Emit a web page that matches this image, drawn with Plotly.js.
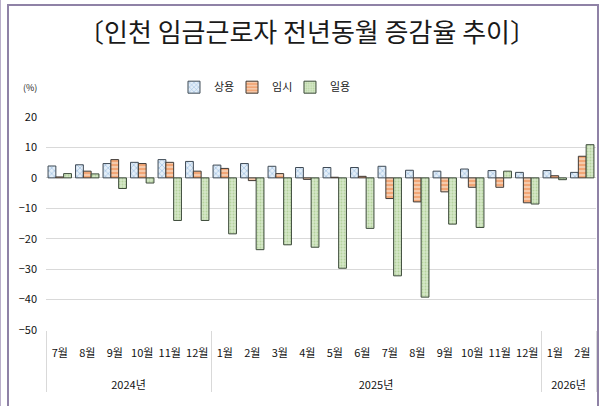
<!DOCTYPE html>
<html>
<head>
<meta charset="utf-8">
<script src="https://cdn.plot.ly/plotly-3.0.1.min.js"></script>
<style>
  html, body { margin: 0; padding: 0; background: #ffffff; }
  #wrap { position: relative; width: 602px; height: 406px; overflow: hidden; }
  #chart { width: 602px; height: 406px; }
  #frame { position: absolute; left: 7px; top: 4px; width: 588px; height: 420px;
           border: 2px solid #8f82a6; pointer-events: none; }
  #edge { position: absolute; left: 0px; top: 0px; width: 1px; height: 406px;
          background: #b9aec9; pointer-events: none; }
</style>
</head>
<body>
<div id="wrap">
  <div id="chart"></div>
  <div id="frame"></div>
  <div id="edge"></div>
</div>
<script>
// zero-width space keeps the 2024 months distinct so that each year keeps its own month order
const ZW = '\u200b';
// leading line breaks drop the year row below the month row
const YB = '<br><br>';
const years = [YB+"2024년",YB+"2024년",YB+"2024년",YB+"2024년",YB+"2024년",YB+"2024년",
  YB+"2025년",YB+"2025년",YB+"2025년",YB+"2025년",YB+"2025년",YB+"2025년",YB+"2025년",YB+"2025년",YB+"2025년",YB+"2025년",YB+"2025년",YB+"2025년",
  YB+"2026년",YB+"2026년"];
const months = ["7월"+ZW,"8월"+ZW,"9월"+ZW,"10월"+ZW,"11월"+ZW,"12월"+ZW,
  "1월","2월","3월","4월","5월","6월","7월","8월","9월","10월","11월","12월",
  "1월","2월"];
const regular   = [3.9, 4.3, 4.7, 5.1, 6.0, 5.4, 4.2, 4.7, 3.8, 3.4, 3.4, 3.4, 3.8, 2.5, 2.2, 2.9, 2.4, 1.8, 2.4, 1.8];
const temporary = [0.3, 2.2, 6.0, 4.7, 5.1, 2.2, 3.1, -0.9, 1.4, -0.5, 0.2, 0.5, -6.8, -7.9, -4.6, -3.1, -3.1, -8.2, 0.7, 7.1];
const daily     = [1.4, 1.3, -3.5, -1.7, -14.0, -14.0, -18.4, -23.6, -22.0, -22.8, -29.7, -16.6, -32.2, -39.2, -15.2, -16.3, 2.2, -8.6, -0.6, 10.9];
const seriesNames = ["상용","임시","일용"];

const FONT = '"Noto Sans CJK KR", "Noto Sans", sans-serif';
const xcat = [years, months];

const traces = [
  { type: 'bar', name: seriesNames[0], x: xcat, y: regular, legend: 'legend',
    marker: { color: '#dbe8f5', line: { color: '#3f4a55', width: 1 },
      pattern: { shape: 'x', fgcolor: '#8db3dc', bgcolor: '#e3eef8', size: 4, solidity: 0.25 } } },
  { type: 'bar', name: seriesNames[1], x: xcat, y: temporary, legend: 'legend2',
    marker: { color: '#f6c4a0', line: { color: '#3f3a36', width: 1 },
      pattern: { shape: '-', fgcolor: '#f6ceb2', bgcolor: '#f2a676', size: 4, solidity: 0.45 } } },
  { type: 'bar', name: seriesNames[2], x: xcat, y: daily, legend: 'legend3',
    marker: { color: '#cfe3c0', line: { color: '#3c4a3a', width: 1 },
      pattern: { shape: '.', fgcolor: '#b5d39d', bgcolor: '#d5e8c8', size: 3, solidity: 0.3 } } }
];

const legendBase = { orientation: 'h', xanchor: 'left', y: 1.14, yanchor: 'middle',
  font: { family: FONT, size: 11, color: '#222222' }, itemwidth: 30, bgcolor: 'rgba(0,0,0,0)' };

const layout = {
  width: 602, height: 406,
  margin: { l: 46, r: 6, t: 117, b: 76 },
  paper_bgcolor: '#ffffff', plot_bgcolor: '#ffffff',
  font: { family: FONT, size: 11, color: '#222222' },
  title: { text: '〔인천 임금근로자 전년동월 증감율 추이〕', font: { family: FONT, size: 26, color: '#1a1a1a' },
           x: 0.51, xanchor: 'center', y: 0.918, yanchor: 'middle' },
  barmode: 'group', bargap: 0.15, bargroupgap: 0,
  showlegend: true,
  legend:  Object.assign({}, legendBase, { x: 0.2327 }),
  legend2: Object.assign({}, legendBase, { x: 0.3382 }),
  legend3: Object.assign({}, legendBase, { x: 0.4436 }),
  xaxis: { type: 'multicategory', showgrid: false, showline: false, zeroline: false,
           tickangle: 0, ticklabelstandoff: 15,
           tickfont: { family: FONT, size: 11, color: '#111111' },
           showdividers: true, dividercolor: '#d9d9d9', dividerwidth: 1,
           ticks: '', fixedrange: true },
  yaxis: { range: [-50, 20], dtick: 10, tick0: 0, showgrid: true, gridcolor: '#d9d9d9', gridwidth: 1,
           zeroline: true, zerolinecolor: '#d9d9d9', zerolinewidth: 1,
           showline: false, ticks: '', ticklabelstandoff: 8,
           tickfont: { family: FONT, size: 11, color: '#111111' }, fixedrange: true },
  annotations: [
    { text: '(%)', xref: 'paper', yref: 'paper', x: -0.03, y: 1.14, xanchor: 'center', yanchor: 'middle',
      showarrow: false, font: { family: FONT, size: 9, color: '#222222' } }
  ]
};

Plotly.newPlot('chart', traces, layout, { staticPlot: true, displayModeBar: false });
</script>
</body>
</html>
